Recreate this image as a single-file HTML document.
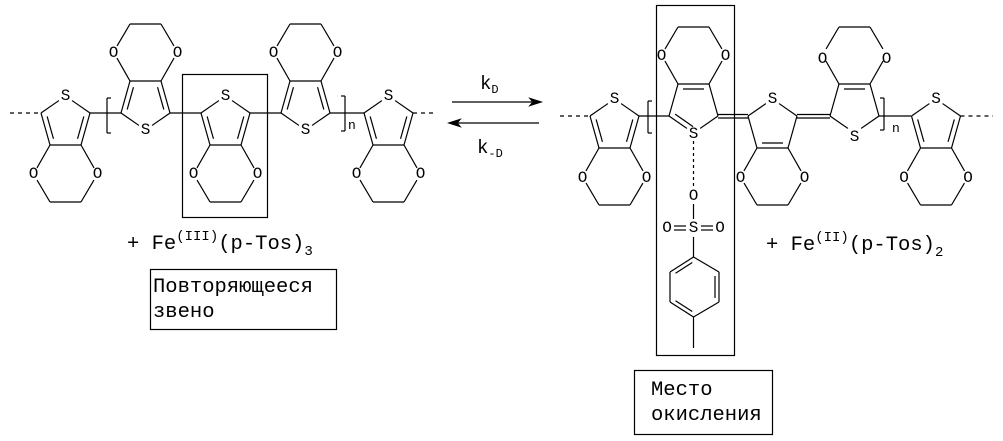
<!DOCTYPE html>
<html><head><meta charset="utf-8"><style>
html,body{margin:0;padding:0;background:#fff;}
svg{display:block;}
text{font-family:"Liberation Mono","DejaVu Sans Mono",monospace;fill:#000;}
.a{font-size:16px;text-anchor:middle;dominant-baseline:central;}
.t{font-size:20.5px;}
</style></head><body>
<svg id="s" width="1003" height="441" viewBox="0 0 1003 441" xmlns="http://www.w3.org/2000/svg">
<g id="L" stroke="#000" stroke-width="1.2" fill="none"></g>
<text class="a" x="65.5" y="96">S</text>
<text class="a" x="145.5" y="130">S</text>
<text class="a" x="225.5" y="96">S</text>
<text class="a" x="305.5" y="130">S</text>
<text class="a" x="388.5" y="96">S</text>
<text class="a" x="33.5" y="174">O</text><text class="a" x="97.5" y="174">O</text>
<text class="a" x="113.5" y="53">O</text><text class="a" x="177.5" y="53">O</text>
<text class="a" x="193.5" y="174">O</text><text class="a" x="257.5" y="174">O</text>
<text class="a" x="273.5" y="53">O</text><text class="a" x="337.5" y="53">O</text>
<text class="a" x="356.5" y="174">O</text><text class="a" x="420.5" y="174">O</text>
<text x="348" y="129" style="font-size:13px">n</text>
<text class="a" x="614.5" y="99">S</text>
<text class="a" x="693.5" y="134">S</text>
<text class="a" x="772.5" y="99">S</text>
<text class="a" x="854.5" y="137">S</text>
<text class="a" x="936" y="99">S</text>
<text class="a" x="582.5" y="178">O</text><text class="a" x="646.5" y="178">O</text>
<text class="a" x="661.5" y="56">O</text><text class="a" x="725.5" y="56">O</text>
<text class="a" x="740.5" y="178">O</text><text class="a" x="804.5" y="178">O</text>
<text class="a" x="822.5" y="59">O</text><text class="a" x="886.5" y="59">O</text>
<text class="a" x="904" y="178">O</text><text class="a" x="968" y="178">O</text>
<text x="892" y="132" style="font-size:13px">n</text>
<text class="a" x="693.5" y="196">O</text>
<text class="a" x="693.5" y="228">S</text>
<text class="a" x="667" y="228">O</text>
<text class="a" x="720" y="228">O</text>
<text x="127" y="249" class="t">+ Fe<tspan dy="-9" style="font-size:14px">(III)</tspan><tspan dy="9">(p-Tos)</tspan><tspan dy="6" style="font-size:14px">3</tspan></text>
<text x="766" y="250" class="t">+ Fe<tspan dy="-9" style="font-size:14px">(II)</tspan><tspan dy="9">(p-Tos)</tspan><tspan dy="6" style="font-size:14px">2</tspan></text>
<text x="480" y="89" style="font-size:19px">k<tspan dy="4" style="font-size:12px">D</tspan></text>
<text x="477" y="153" style="font-size:19px">k<tspan dy="4" style="font-size:12px">-D</tspan></text>
<text x="153" y="292" class="t">Повторяющееся</text>
<text x="153" y="317" class="t">звено</text>
<text x="651" y="395" class="t">Место</text>
<text x="651" y="420" class="t">окисления</text>
</svg>
<script>
var g=document.getElementById('L'),NS='http://www.w3.org/2000/svg';
function ln(x1,y1,x2,y2,d){var l=document.createElementNS(NS,'line');l.setAttribute('x1',x1);l.setAttribute('y1',y1);l.setAttribute('x2',x2);l.setAttribute('y2',y2);if(d)l.setAttribute('stroke-dasharray',d);g.appendChild(l);}
function sh(a,b,s1,s2){var dx=b[0]-a[0],dy=b[1]-a[1],L=Math.hypot(dx,dy);return [a[0]+dx*s1/L,a[1]+dy*s1/L,b[0]-dx*s2/L,b[1]-dy*s2/L];}
function bond(a,b,s1,s2){var p=sh(a,b,s1||0,s2||0);ln(p[0],p[1],p[2],p[3]);}
function inner(a,b,c,off,shr){var dx=b[0]-a[0],dy=b[1]-a[1],L=Math.hypot(dx,dy);var nx=-dy/L,ny=dx/L;var mx=(a[0]+b[0])/2,my=(a[1]+b[1])/2;if((c[0]-mx)*nx+(c[1]-my)*ny<0){nx=-nx;ny=-ny;}var p=sh(a,b,shr,shr);ln(p[0]+nx*off,p[1]+ny*off,p[2]+nx*off,p[3]+ny*off);}
function box(x,y,w,h){var r=document.createElementNS(NS,'rect');r.setAttribute('x',x);r.setAttribute('y',y);r.setAttribute('width',w);r.setAttribute('height',h);g.appendChild(r);}
function unit(cx,y,dir,dbl){
 var aL=[cx-24.5,y],aR=[cx+24.5,y],S=[cx,y-17*dir],bL=[cx-15.5,y+32*dir],bR=[cx+15.5,y+32*dir],
 oL=[cx-32,y+61*dir],oR=[cx+32,y+61*dir],cL=[cx-15.5,y+89*dir],cR=[cx+15.5,y+89*dir],ctr=[cx,y+12*dir];
 bond(aL,S,0,8);bond(aR,S,0,8);bond(aL,bL);bond(aR,bR);bond(bL,bR);
 bond(bL,oL,0,7);bond(bR,oR,0,7);bond(oL,cL,7,0);bond(oR,cR,7,0);bond(cL,cR);
 if(dbl.indexOf('ab')>=0){inner(aL,bL,ctr,5,5);inner(aR,bR,ctr,5,5);}
 if(dbl.indexOf('bb')>=0){inner(bL,bR,ctr,5,5);}
 if(dbl.indexOf('aS')>=0){inner(aL,S,ctr,5,4);}
}
var y=113;
ln(10,y,41,y,'4,4');
unit(65.5,y,1,'ab');unit(145.5,y,-1,'ab');unit(225.5,y,1,'ab');unit(305.5,y,-1,'ab');unit(388.5,y,1,'ab');
ln(90,y,121,y);ln(170,y,201,y);ln(250,y,281,y);ln(330,y,364,y);
ln(413,y,437,y,'4,4');
ln(107,98,107,133);ln(107,98,111,98);ln(107,133,111,133);
ln(345,96,345,131);ln(341,96,345,96);ln(341,131,345,131);
box(182.5,74.5,85,143);
ln(452,102,532,102);ln(458,123,539,123);
var p1=document.createElementNS(NS,'path');p1.setAttribute('d','M541 102 L530 98.5 L533 102 L530 105.5Z');p1.setAttribute('fill','#000');g.appendChild(p1);
var p2=document.createElementNS(NS,'path');p2.setAttribute('d','M449 123 L460 119.5 L457 123 L460 126.5Z');p2.setAttribute('fill','#000');g.appendChild(p2);
box(150.5,269.5,186,60);
y=116;
ln(560,y,590,y,'4,4');
unit(614.5,y,1,'ab');
unit(693.5,y,-1,'bb aS');
unit(772.5,y,1,'bb');
unit(854.5,y,-1,'bb');
unit(936,y,1,'ab');
ln(639,y,669,y);
ln(718,114.5,748,114.5);ln(718,118,748,118);
ln(797,114.5,830,114.5);ln(797,118,830,118);
ln(879,y,911,y);
ln(960.5,y,993,y,'4,4');
ln(648,101,648,133);ln(648,101,652,101);ln(648,133,652,133);
ln(884,98,884,130);ln(880,98,884,98);ln(880,130,884,130);
box(656.5,5.5,78,350);
ln(693.5,141,693.5,188,'3,3');
ln(693.5,204,693.5,219);
ln(674,226,686,226);ln(674,230,686,230);ln(701,226,713,226);ln(701,230,713,230);
ln(693.5,237,693.5,257);
var B=[[693.5,257],[719,272],[719,302],[693.5,317],[670,302],[670,272]],bc=[694,287];
for(var i=0;i<6;i++)bond(B[i],B[(i+1)%6]);
inner(B[5],B[0],bc,4,4);inner(B[1],B[2],bc,4,4);inner(B[3],B[4],bc,4,4);
ln(693.5,317,693.5,348);
box(634.5,370.5,138,64);
</script>
</body></html>
